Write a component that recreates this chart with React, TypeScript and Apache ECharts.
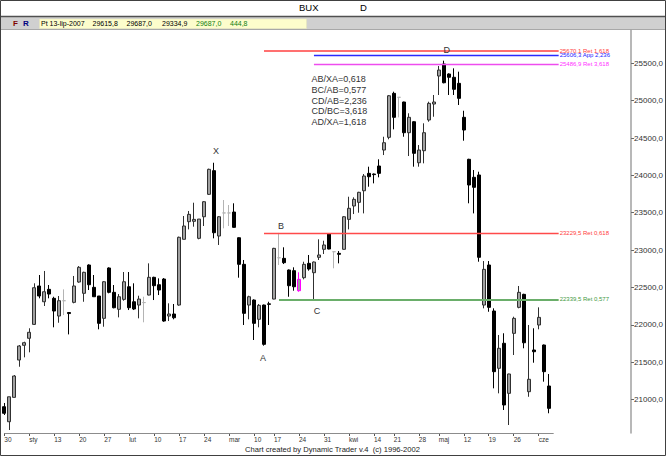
import React, { useEffect, useRef } from "react";
import * as echarts from "echarts";

const dates = [
  "2006-12-29", "2007-01-02", "2007-01-03", "2007-01-04", "2007-01-05",
  "2007-01-08", "2007-01-09", "2007-01-10", "2007-01-11", "2007-01-12",
  "2007-01-15", "2007-01-16", "2007-01-17", "2007-01-18", "2007-01-19",
  "2007-01-22", "2007-01-23", "2007-01-24", "2007-01-25", "2007-01-26",
  "2007-01-29", "2007-01-30", "2007-01-31", "2007-02-01", "2007-02-02",
  "2007-02-05", "2007-02-06", "2007-02-07", "2007-02-08", "2007-02-09",
  "2007-02-12", "2007-02-13", "2007-02-14", "2007-02-15", "2007-02-16",
  "2007-02-19", "2007-02-20", "2007-02-21", "2007-02-22", "2007-02-23",
  "2007-02-26", "2007-02-27", "2007-02-28", "2007-03-01", "2007-03-02",
  "2007-03-05", "2007-03-06", "2007-03-07", "2007-03-08", "2007-03-09",
  "2007-03-12", "2007-03-13", "2007-03-14", "2007-03-16",
  "2007-03-19", "2007-03-20", "2007-03-21", "2007-03-22", "2007-03-23",
  "2007-03-26", "2007-03-27", "2007-03-28", "2007-03-29", "2007-03-30",
  "2007-04-02", "2007-04-03", "2007-04-04", "2007-04-05", "2007-04-06",
  "2007-04-10", "2007-04-11", "2007-04-12", "2007-04-13", "2007-04-14",
  "2007-04-16", "2007-04-17", "2007-04-18", "2007-04-19",
  "2007-04-20", "2007-04-23", "2007-04-24", "2007-04-25", "2007-04-26",
  "2007-04-27", "2007-05-02", "2007-05-03", "2007-05-04",
  "2007-05-07", "2007-05-08", "2007-05-09", "2007-05-10", "2007-05-11",
  "2007-05-14", "2007-05-15", "2007-05-16", "2007-05-17", "2007-05-18",
  "2007-05-21", "2007-05-22", "2007-05-23", "2007-05-24", "2007-05-25",
  "2007-05-28", "2007-05-29", "2007-05-30", "2007-05-31", "2007-06-01",
  "2007-06-04", "2007-06-05", "2007-06-06",
  "2007-06-07", "2007-06-08", "2007-06-11", "2007-06-12", "2007-06-13",
  "2007-06-14", "2007-06-15", "2007-06-18", "2007-06-19", "2007-06-20",
  "2007-06-21", "2007-06-22", "2007-06-25", "2007-06-26", "2007-06-27",
  "2007-06-28",
];

const open = [
  20903, 20702, 21028, 21528, 21725, 21819, 22005, 22519, 22308, 22474,
  22354, 22117, 22322, 22164, 22300, 22572, 22421, 22800, 22501, 22385,
  22086, 22760, 22434, 22207, 22340, 22509, 22308, 22264, 22297, 22398,
  22635, 22536, 22612, 22117, 22144, 22264, 23144, 23380, 23385, 23157,
  23446, 23746, 24063, 23188, 23497, 23497, 23509, 23165, 22809, 22264,
  22331, 22073, 22264, 22280, 22344, 22897, 22889, 22733, 22724, 22456,
  22630, 22822, 22697, 22903, 23010, 23215, 22978, 22956, 23010, 23411,
  23590, 23639, 23794, 24027, 24018, 24125, 24339, 24509, 25098, 25045,
  24982, 24571, 24718, 24169, 24330, 24741, 24955, 25330, 25491, 25357,
  25313, 25232, 24777, 24215, 23974, 24005, 22264, 22800, 22184, 21417,
  21752, 21082, 21885, 22233, 22407, 21104, 21662, 21997, 21729, 21180,
];
const high = [
  20953, 21036, 21327, 21729, 21773, 21953, 22555, 22666, 22720, 22532,
  22375, 22385, 22474, 22171, 22653, 22786, 22710, 22809, 22666, 22385,
  22585, 22769, 22532, 22411, 22706, 22706, 22555, 22389, 22375, 22822,
  22643, 22621, 22625, 22287, 22278, 23180, 23456, 23523, 23634, 23415,
  23656, 24090, 24169, 23456, 23670, 23603, 23626, 23170, 22867, 22389,
  22340, 22278, 22270, 22308, 23030, 23229.5, 23037, 22740, 22769, 22702,
  22844, 22934, 22847, 23144, 23125, 23224, 22987, 22987, 23455, 23714,
  23706, 23780, 24018, 24116, 24025, 24215, 24517, 25076, 25120, 25045,
  24986, 24831, 24725, 24406, 24697, 24986, 25076, 25464, 25535, 25366,
  25433, 25388, 24865, 24222, 24072, 24049, 22853, 22853, 22220, 21863,
  21886, 21345, 22108, 22519, 22415, 21997, 21953, 22233, 21735, 21341,
];
const low = [
  20792, 20591, 21028, 21438, 21564, 21631, 21997, 22354, 22251, 22354,
  21966, 22027, 22130, 21871, 22287, 22562, 22308, 22465, 22375, 21939,
  21974, 22421, 22220, 22099, 22322, 22197, 22197, 22086, 22033, 22394,
  22331, 22398, 22040, 22050, 22073, 22255, 23144, 23277, 23313, 23144,
  23322, 23737, 23157, 23068, 23291, 23322, 23300, 22630, 21997, 22073,
  21796, 21966, 21720, 21997, 22340, 22800, 22813, 22375, 22456, 22442,
  22608, 22724, 22339.5, 22867, 22947, 23010, 22756, 22822, 23005, 23277,
  23482, 23500, 23491, 23848, 23893, 23974, 24272, 24483, 24616, 24777,
  24517, 24259, 24116, 24116, 24161, 24718, 24785, 25076, 25232, 25076,
  25076, 24942, 24464, 23626, 23491, 22844, 22220, 22174, 21149, 21082,
  20859, 20658, 21595, 22220, 21685, 21036, 21492, 21939, 21238, 20815,
];
const close = [
  20815, 21036, 21314, 21716, 21760, 21899, 22496, 22385, 22442, 22411,
  22184, 22322, 22322, 22150, 22519, 22769, 22702, 22536, 22375, 22019,
  22576, 22434, 22228, 22375, 22576, 22228, 22211, 22344, 22297, 22635,
  22523, 22465, 22050, 22144, 22094, 23171, 23322, 23478, 23411, 23415,
  23647, 24081, 23232, 23446, 23497, 23497, 23304, 22809, 22153, 22375,
  22019, 22260, 21738, 22273, 23023, 22897, 22831, 22523, 22509, 22608,
  22809, 22746, 22840, 22934, 23068, 23014, 22978, 22943, 23446, 23559,
  23679, 23773, 23991, 23982, 24010, 24027, 24437, 25066, 24777, 25045,
  24571, 24777, 24295, 24339, 24571, 24964, 24982, 25410, 25240, 25313,
  25152, 25031, 24607, 23871, 23840, 22903, 22742, 22233, 21372, 21685,
  20926, 21341, 22086, 22434, 21759, 21270, 21639, 22099, 21372, 20881,
];

const tickIndex = [0, 5, 10, 15, 20, 25, 30, 35, 40, 45, 50, 54, 59, 64, 69, 74, 78, 83, 87, 92, 97, 102, 107];
const tickText = ["30", "sty", "13", "20", "27", "lut", "10", "17", "24", "mar", "10", "17", "24", "31", "kwi", "14", "21", "28", "maj", "12", "19", "26", "cze"];

const yTicks = [21000, 21500, 22000, 22500, 23000, 23500, 24000, 24500, 25000, 25500];
const Y_MIN = 20551;
const Y_MAX = 25946;

const levelValues = [25670.1, 25606.3, 25486.9, 23229.5, 22339.5];
const levelNames = ["Ret 1,618", "App 2,236", "Ret 3,618", "Ret 0,618", "Ret 0,577"];
const levelStart = [52, 62, 62, 52, 55];
const levelEnd = 111;
const levelColors = ["#ff7070", "#2a2aff", "#ee4cee", "#ff4a4a", "#6aae6a"];
const levelTextColors = ["#ff3c3c", "#2020ff", "#ff30ff", "#ff3c3c", "#3f9a3f"];
const levelWidths = [1.8, 1.3, 1.3, 1.3, 1.8];

const pointNames = ["X", "A", "B", "C", "D"];
const pointIdx = [42, 52, 55, 62, 88];
const pointAtHigh = [true, false, true, false, true];
const pointOffsets = [[2, -12], [-1, 12], [2, -7], [3, 12], [3, -11]];

const highlightIdx = 59;

const ratioLines = ["AB/XA=0,618", "BC/AB=0,577", "CD/AB=2,236", "CD/BC=3,618", "AD/XA=1,618"];

const fmt = (v: number) => v.toFixed(1).replace(".", ",");

export default function App() {
  const ref = useRef<HTMLDivElement>(null);

  useEffect(() => {
    if (!ref.current) return;
    const chart = echarts.init(ref.current, null, { renderer: "svg" });

    const labelByDate: Record<string, string> = {};
    tickIndex.forEach((ix, k) => {
      labelByDate[dates[ix]] = tickText[k];
    });
    const isTick = (i: number) => tickIndex.indexOf(i) >= 0;

    const candleData = open.map((o, i) => {
      const item: any = { value: [o, close[i], low[i], high[i]] };
      if (i === highlightIdx) {
        item.itemStyle = { color: "#a0a0a0", color0: "#a0a0a0", borderColor: "#ff00ff", borderColor0: "#ff00ff" };
      } else if (o === close[i]) {
        item.itemStyle = { color: "#b4b4b4", color0: "#b4b4b4", borderColor: "#b4b4b4", borderColor0: "#b4b4b4" };
      }
      return item;
    });

    const markLineData: any[] = levelValues.map((v, k) => {
      const ls = { color: levelColors[k], width: levelWidths[k], type: "solid", opacity: 1 };
      return [
        {
          coord: [levelStart[k], v],
          lineStyle: ls,
          label: {
            show: true,
            position: "end",
            distance: 1,
            formatter: fmt(v) + " " + levelNames[k],
            color: levelTextColors[k],
            fontSize: 6,
            fontFamily: "Liberation Sans",
          },
        },
        { coord: [levelEnd, v], lineStyle: ls },
      ];
    });
    const axisLs = { color: "#8c8c8c", width: 1, type: "solid", opacity: 1 };
    markLineData.push([
      { coord: [0, Y_MIN], lineStyle: axisLs, label: { show: false } },
      { coord: [110, Y_MIN], lineStyle: axisLs },
    ]);

    const markPointData = pointNames.map((n, k) => {
      const ix = pointIdx[k];
      return {
        name: n,
        coord: [ix, pointAtHigh[k] ? high[ix] : low[ix]],
        label: { offset: pointOffsets[k] },
      };
    });

    const txt = (text: string, x: number, y: number, size: number, color: string, extra: any = {}) => ({
      type: "text",
      x,
      y,
      silent: true,
      style: {
        text,
        fill: color,
        font: `${extra.weight || "normal"} ${size}px "Liberation Sans", Arial, sans-serif`,
        textAlign: "left",
        textVerticalAlign: "middle",
        align: "left",
        verticalAlign: "middle",
      },
    });

    chart.setOption({
      animation: false,
      backgroundColor: "#ffffff",
      grid: { left: 1.8, right: 29.2, top: 30, bottom: 23 },
      xAxis: {
        type: "category",
        data: dates,
        boundaryGap: true,
        axisLine: { show: false },
        axisTick: {
          show: true,
          alignWithLabel: true,
          interval: (i: number) => isTick(i),
          length: 3,
          lineStyle: { color: "#555" },
        },
        axisLabel: {
          interval: (i: number) => isTick(i),
          formatter: (v: string) => labelByDate[v] || "",
          align: "left",
          fontSize: 6.5,
          fontFamily: "Liberation Sans",
          color: "#333",
          margin: 3,
        },
        splitLine: { show: false },
      },
      yAxis: {
        type: "value",
        position: "right",
        min: Y_MIN,
        max: Y_MAX,
        axisLine: { show: true, lineStyle: { color: "#a0a0a0", width: 1.5 } },
        axisTick: { show: true, length: 3, customValues: yTicks, lineStyle: { color: "#666" } },
        axisLabel: {
          customValues: yTicks,
          formatter: (v: number) => fmt(v),
          fontSize: 8,
          fontFamily: "Liberation Sans",
          color: "#333",
          margin: 3,
        },
        splitLine: { show: false },
      },
      series: [
        {
          type: "candlestick",
          data: candleData,
          barWidth: 3.3,
          clip: false,
          itemStyle: {
            color: "#a0a0a0",
            color0: "#000000",
            borderColor: "#303030",
            borderColor0: "#000000",
            borderWidth: 1,
          },
          markLine: {
            silent: true,
            symbol: ["none", "none"],
            data: markLineData,
          },
          markPoint: {
            silent: true,
            symbol: "circle",
            symbolSize: 1,
            itemStyle: { color: "rgba(0,0,0,0)" },
            label: {
              show: true,
              position: "inside",
              formatter: "{b}",
              color: "#333",
              fontSize: 9,
              fontFamily: "Liberation Sans",
            },
            data: markPointData,
          },
        },
      ],
      graphic: [
        { type: "rect", silent: true, shape: { x: 0, y: 17, width: 666, height: 12 }, style: { fill: "#d0d0d0" } },
        { type: "line", silent: true, shape: { x1: 0, y1: 16.5, x2: 666, y2: 16.5 }, style: { stroke: "#505050", lineWidth: 1.5 } },
        { type: "line", silent: true, shape: { x1: 0, y1: 29.5, x2: 666, y2: 29.5 }, style: { stroke: "#a8a8a8", lineWidth: 1 } },
        { type: "rect", silent: true, shape: { x: 39.5, y: 19, width: 267, height: 9.5 }, style: { fill: "#fdfdcc", stroke: "#e4e4b8", lineWidth: 0.5 } },
        txt("F", 13, 23.8, 8, "#800000", { weight: "bold" }),
        txt("R", 23, 23.8, 8, "#000080", { weight: "bold" }),
        txt("Pt 13-lip-2007", 41, 23.8, 7, "#000"),
        txt("29615,8", 92.5, 23.8, 7, "#000"),
        txt("29687,0", 126.5, 23.8, 7, "#000"),
        txt("29334,9", 162, 23.8, 7, "#000"),
        txt("29687,0", 196, 23.8, 7, "#108010"),
        txt("444,8", 230, 23.8, 7, "#108010"),
        txt("BUX", 299, 7.5, 9.5, "#000"),
        txt("D", 360, 7.5, 9.5, "#000"),
        {
          type: "text",
          x: 311.5,
          y: 74,
          silent: true,
          style: {
            text: ratioLines.join("\n"),
            fill: "#333",
            font: '9px "Liberation Sans", Arial, sans-serif',
            lineHeight: 10.7,
            textAlign: "left",
            textVerticalAlign: "top",
            align: "left",
            verticalAlign: "top",
          },
        },
        txt("Chart created by Dynamic Trader v.4  (c) 1996-2002", 245, 449.5, 7.6, "#222"),
        { type: "rect", silent: true, shape: { x: 0.5, y: 0.5, width: 665, height: 455 }, style: { fill: "none", stroke: "#404040", lineWidth: 1 } },
      ],
    });

    return () => chart.dispose();
  }, []);

  return (
    <div
      ref={ref}
      style={{ position: "fixed", left: 0, top: 0, width: 666, height: 456, background: "#fff" }}
    />
  );
}
